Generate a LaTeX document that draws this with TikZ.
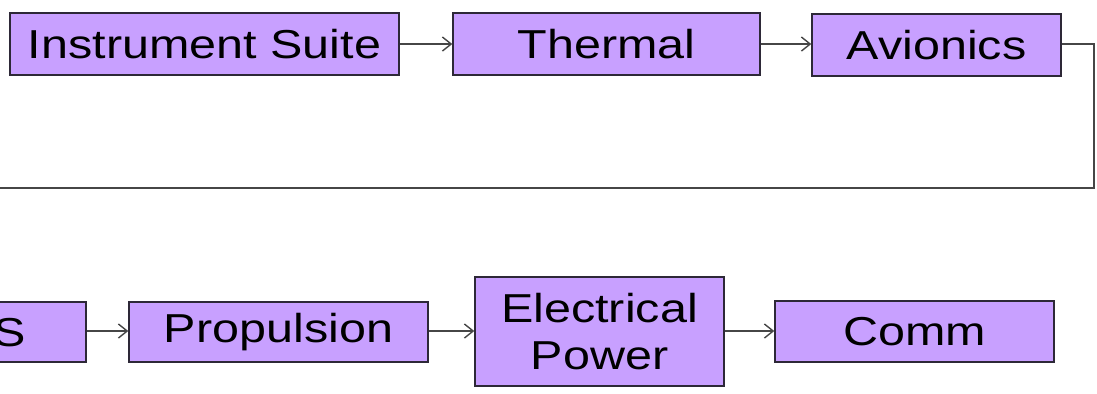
\documentclass[tikz,border=0pt]{standalone}
\usepackage{fontspec}
\setmainfont{Liberation Sans}[FakeStretch=1.2]
\usetikzlibrary{arrows.meta}
\definecolor{boxfill}{RGB}{200,160,255}
\definecolor{boxline}{RGB}{45,40,55}
\definecolor{wire}{RGB}{70,70,70}
\tikzset{
  blk/.style={draw=boxline, line width=0.8pt, fill=boxfill, inner sep=0pt,
    font=\fontsize{23}{27}\selectfont, text=black, align=center},
  flow/.style={draw=wire, line width=0.8pt, -{Straight Barb[length=5pt,width=8pt]}},
  link/.style={draw=wire, line width=0.8pt}
}
\begin{document}
\begin{tikzpicture}[x=0.02cm, y=-0.02cm]
\useasboundingbox (0,0) rectangle (1097,393);
\clip (0,0) rectangle (1097,393);
\node[blk, minimum width=389*0.02cm, minimum height=62*0.02cm] (ins) at (204.5,44) {Instrument Suite};
\node[blk, minimum width=307*0.02cm, minimum height=62*0.02cm] (th) at (606.5,44) {Thermal};
\node[blk, minimum width=249*0.02cm, minimum height=62*0.02cm] (av) at (936.5,45) {Avionics};
\node[blk, minimum width=236*0.02cm, minimum height=60*0.02cm] (gnc) at (-32,332) {};
\node[font=\fontsize{23}{27}\selectfont, anchor=east, inner sep=0pt] (gnct) at (26,333) {S};
\node[blk, minimum width=299*0.02cm, minimum height=60*0.02cm] (prop) at (278.5,332) {Propulsion};
\node[blk, minimum width=249*0.02cm, minimum height=109*0.02cm] (ep) at (599.5,331.5) {Electrical\\Power};
\node[blk, minimum width=279*0.02cm, minimum height=61*0.02cm] (comm) at (914.5,331.5) {Comm};
\coordinate (c1) at (1094,44);
\coordinate (c2) at (1094,188);
\coordinate (c3) at (-20,188);
\draw[flow] (ins.east |- 0,44) -- (th.west |- 0,44);
\draw[flow] (th.east |- 0,44) -- (av.west |- 0,44);
\draw[link] (av.east |- 0,44) -- (c1) -- (c2) -- (c3);
\draw[flow] (gnc.east |- 0,331) -- (prop.west |- 0,331);
\draw[flow] (prop.east |- 0,331) -- (ep.west |- 0,331);
\draw[flow] (ep.east |- 0,331) -- (comm.west |- 0,331);
\end{tikzpicture}
\end{document}
